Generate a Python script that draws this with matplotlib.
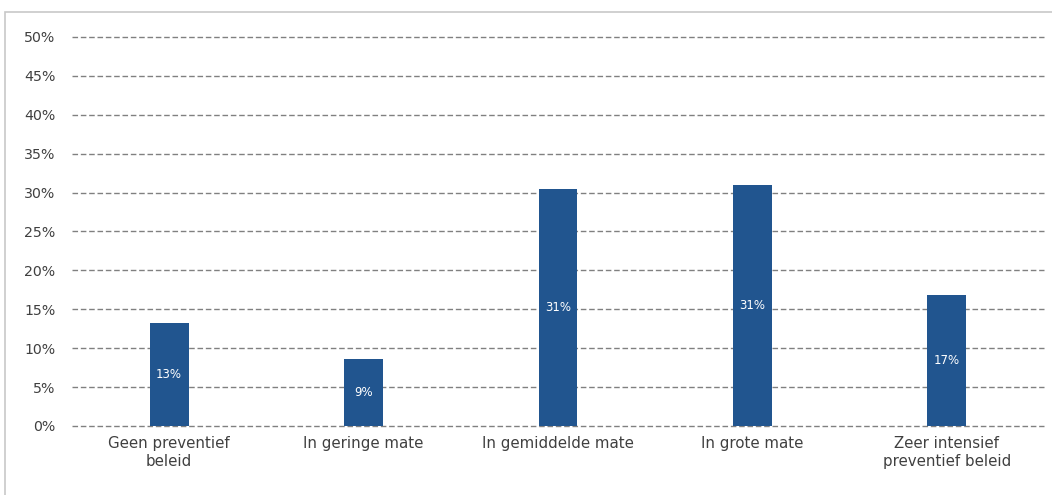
import matplotlib.pyplot as plt
from matplotlib.patches import Rectangle
from matplotlib.ticker import FuncFormatter

categories = ['Geen preventief\nbeleid', 'In geringe mate', 'In gemiddelde mate',
              'In grote mate', 'Zeer intensief\npreventief beleid']
values = [13.2, 8.6, 30.5, 31.0, 16.8]
bar_labels = ['13%', '9%', '31%', '31%', '17%']

fig = plt.figure(figsize=(10.52, 4.95), dpi=100)
ax = fig.add_axes([0.0684, 0.1394, 0.924, 0.7859])

# light frame around the whole chart
fig.patches.append(Rectangle((5 / 1052, -0.1), 1.2, (495 - 12) / 495 + 0.1,
                             transform=fig.transFigure, fill=False,
                             edgecolor='#c8c8c8', linewidth=1.2))

x = range(len(categories))
bars = ax.bar(x, values, width=0.2, color='#21558f', zorder=3)

for b, lab in zip(bars, bar_labels):
    ax.text(b.get_x() + b.get_width() / 2, b.get_height() / 2, lab,
            ha='center', va='center', color='white', fontsize=8.5, zorder=4)

ax.set_xlim(-0.5, len(categories) - 0.5)
ax.set_ylim(0, 50)
ax.set_yticks(range(0, 51, 5))
ax.yaxis.set_major_formatter(FuncFormatter(lambda v, p: f'{int(v)}%'))
ax.set_xticks(list(x))
ax.set_xticklabels(categories, fontsize=10.8, linespacing=1.25)

ax.grid(axis='y', linestyle=(0, (4, 2)), color='#808080', linewidth=1, zorder=0)
for gl in ax.get_ygridlines():
    gl.set_clip_on(False)
for s in ax.spines.values():
    s.set_visible(False)
ax.tick_params(axis='both', length=0, colors='#404040')
ax.tick_params(axis='y', pad=12, labelsize=10.2)
ax.tick_params(axis='x', pad=7)

fig.savefig('out.png', dpi=100)
